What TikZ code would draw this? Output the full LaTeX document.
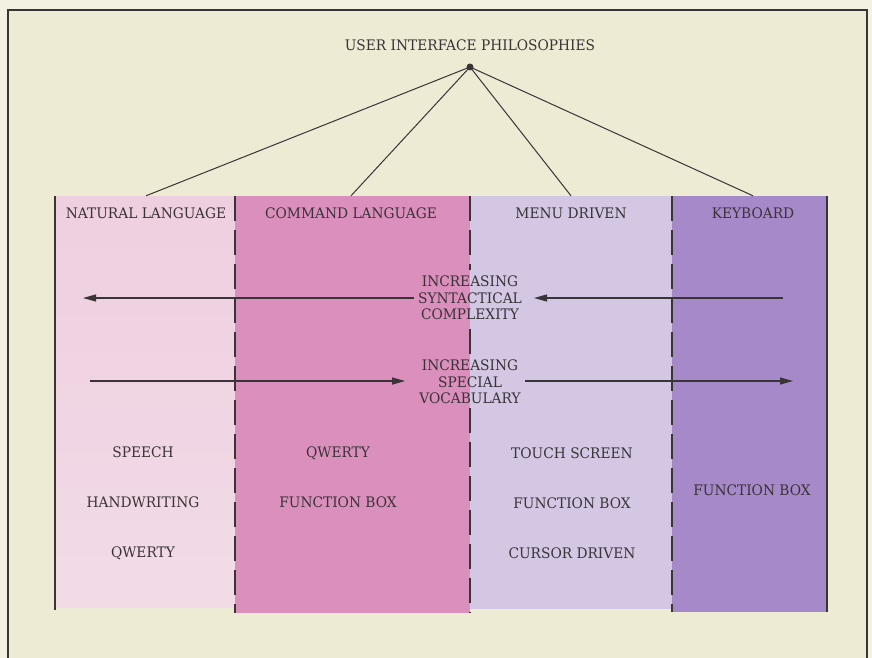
\documentclass[tikz,border=0pt]{standalone}
\usepackage{fontspec}
\setmainfont{DejaVu Serif}[FakeStretch=0.95]
\usetikzlibrary{arrows.meta}
\definecolor{bgout}{HTML}{F3F1E2}
\definecolor{bgin}{HTML}{EDEBD4}
\definecolor{ink}{HTML}{3A3337}
\definecolor{frame}{HTML}{3A3535}
\definecolor{colA}{HTML}{EECFE0}
\definecolor{colAb}{HTML}{F2DBE7}
\definecolor{colB}{HTML}{DB8FBD}
\definecolor{colC}{HTML}{D3C7E3}
\definecolor{colD}{HTML}{A689C9}
\tikzset{
  lbl/.style={text=ink, inner sep=0pt, text height=10.5pt, text depth=0pt},
  hdr/.style={text=ink, inner sep=0pt, minimum height=34pt, text height=10.5pt, text depth=0pt},
  multi/.style={text=ink, align=center, inner sep=4pt},
  conn/.style={draw=ink, line width=1pt},
  arr/.style={draw=ink, line width=1.2pt, -{Triangle[length=13pt,width=7pt]}},
  solidline/.style={draw=frame, line width=2.4pt},
  dashline/.style={draw=frame, line width=2.4pt, dash pattern=on 25pt off 9pt},
}
\begin{document}
\begin{tikzpicture}[x=1pt,y=-1pt,font=\fontsize{14.5}{16.5}\selectfont]
\useasboundingbox (0,0) rectangle (872,658);
\fill[bgout] (0,0) rectangle (872,658);
\fill[bgin] (8,10) rectangle (867,658);
\draw[solidline, line width=2.6pt] (8,660) -- (8,10) -- (867,10) -- (867,660);

% columns
\fill[top color=colA, bottom color=colAb] (55,196) rectangle (235,607);
\fill[colB] (235,196) rectangle (470,613);
\fill[colC] (470,196) rectangle (672,609);
\fill[colD] (672,196) rectangle (827,612);

% title and root
\node[lbl] (title) at (470,45) {USER INTERFACE PHILOSOPHIES};
\node[circle, fill=ink, inner sep=0pt, minimum size=7pt] (root) at (470,67) {};

% headers
\node[hdr] (nl) at (146,213) {NATURAL LANGUAGE};
\node[hdr] (cl) at (351,213) {COMMAND LANGUAGE};
\node[hdr] (md) at (571,213) {MENU DRIVEN};
\node[hdr] (kb) at (753,213) {KEYBOARD};

\draw[conn] (root.center) -- (nl.north);
\draw[conn] (root.center) -- (cl.north);
\draw[conn] (root.center) -- (md.north);
\draw[conn] (root.center) -- (kb.north);

% middle texts
\node[multi] (syn) at (470,298) {INCREASING\\SYNTACTICAL\\COMPLEXITY};
\node[multi] (voc) at (470,382) {INCREASING\\SPECIAL\\VOCABULARY};

% vertical lines
\draw[solidline] (55,196) -- (55,610);
\draw[solidline] (827,196) -- (827,612);
\draw[dashline] (235,196) -- (235,613);
\draw[dashline] (672,196) -- (672,612);
\draw[dashline] (470,196) -- (470,270);
\draw[dashline] (470,329) -- (470,355);
\draw[dashline] (470,408) -- (470,613);

% arrows
\coordinate (synL) at (83,298);
\coordinate (synR) at (783,298);
\coordinate (vocL) at (90,381);
\coordinate (vocR) at (793,381);
\draw[arr] (syn.west |- synL) -- (synL);
\draw[arr, shorten >=8pt] (synR) -- (syn.east |- synR);
\draw[arr, shorten >=10pt] (vocL) -- (voc.west |- vocL);
\draw[arr] (voc.east |- vocR) -- (vocR);

% items
\node[lbl] (nl1) at (143,452) {SPEECH};
\node[lbl] (nl2) at (143,502) {HANDWRITING};
\node[lbl] (nl3) at (143,552) {QWERTY};
\node[lbl] (cl1) at (338,452) {QWERTY};
\node[lbl] (cl2) at (338,502) {FUNCTION BOX};
\node[lbl] (md1) at (572,453) {TOUCH SCREEN};
\node[lbl] (md2) at (572,503) {FUNCTION BOX};
\node[lbl] (md3) at (572,553) {CURSOR DRIVEN};
\node[lbl] (kb1) at (752,490) {FUNCTION BOX};
\end{tikzpicture}
\end{document}
